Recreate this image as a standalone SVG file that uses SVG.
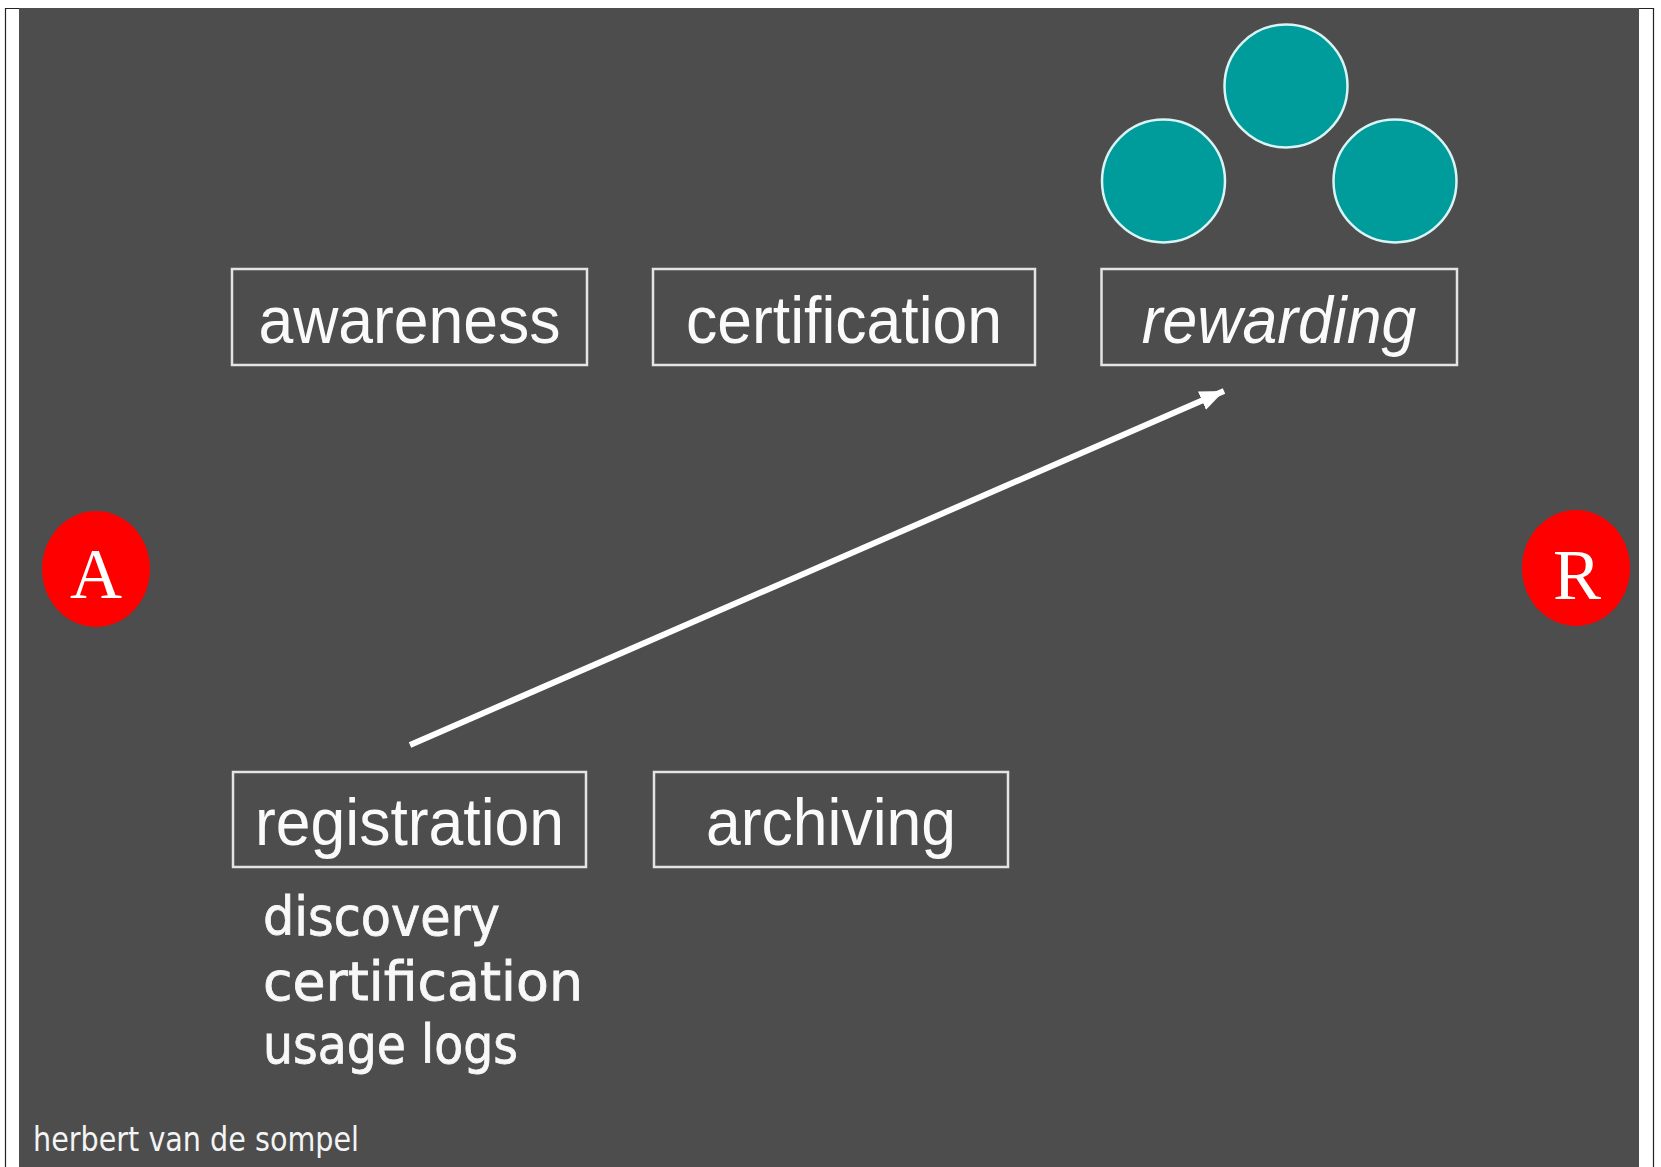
<svg xmlns="http://www.w3.org/2000/svg" width="1661" height="1167" viewBox="0 0 1661 1167">
<defs>
<style>
.box{fill:none;stroke:#e4e4e4;stroke-width:2.5}
.lbl{font-family:'Liberation Sans',Arial,sans-serif;font-size:62.5px;fill:#fafafa;text-anchor:middle}
.sub{font-family:'DejaVu Sans',sans-serif;font-size:53px;fill:#f8f8f8;stroke:#f8f8f8;stroke-width:0.8}
.teal{fill:#009b9b;stroke:#d8f4f4;stroke-width:2.5}
.red{fill:#ff0000}
.letter{font-family:'Liberation Serif','Times New Roman',serif;font-size:72px;fill:#ffffff;text-anchor:middle}
</style>
<marker id="ah" markerUnits="userSpaceOnUse" markerWidth="28" markerHeight="24" refX="24" refY="10" orient="auto">
<path d="M0,0 L24,10 L0,20 Z" fill="#ffffff"/>
</marker>
</defs>
<rect x="0" y="0" width="1661" height="1167" fill="#ffffff"/>
<path d="M5.5,1167 V8.5 H1653.5 V1167" fill="none" stroke="#222" stroke-width="1.2"/>
<rect x="19" y="8" width="1620" height="1159" fill="#4d4d4d"/>

<g id="circles">
<circle class="teal" cx="1286" cy="86" r="61.5"/>
<circle class="teal" cx="1163.5" cy="181" r="61.5"/>
<circle class="teal" cx="1395" cy="181" r="61.5"/>
</g>

<g id="awareness">
<rect class="box" x="232" y="269" width="355" height="96"/>
<text class="lbl" transform="translate(409.5,343) scale(1,1.06)">awareness</text>
</g>
<g id="certification">
<rect class="box" x="653" y="269" width="382" height="96"/>
<text class="lbl" transform="translate(844,343) scale(1,1.06)">certification</text>
</g>
<g id="rewarding">
<rect class="box" x="1101.5" y="269" width="355.5" height="96"/>
<text class="lbl" font-style="italic" transform="translate(1279,343) scale(1,1.06)">rewarding</text>
</g>
<g id="registration">
<rect class="box" x="233" y="772" width="353" height="95"/>
<text class="lbl" transform="translate(409.5,845) scale(1,1.06)">registration</text>
<text class="sub" x="263" y="935" textLength="237" lengthAdjust="spacingAndGlyphs">discovery</text>
<text class="sub" x="263" y="1000" textLength="320" lengthAdjust="spacingAndGlyphs">certification</text>
<text class="sub" x="263" y="1063" textLength="255" lengthAdjust="spacingAndGlyphs">usage logs</text>
</g>
<g id="archiving">
<rect class="box" x="654" y="772" width="354" height="95"/>
<text class="lbl" transform="translate(831,845) scale(1,1.06)">archiving</text>
</g>

<g id="nodeA">
<ellipse class="red" cx="96" cy="569" rx="54" ry="58"/>
<text class="letter" x="96" y="598">A</text>
</g>
<g id="nodeR">
<ellipse class="red" cx="1576" cy="568" rx="54" ry="58"/>
<text class="letter" x="1577" y="599">R</text>
</g>

<g id="connectors">
<line x1="410" y1="745" x2="1224" y2="391" stroke="#ffffff" stroke-width="6" marker-end="url(#ah)"/>
</g>

<text x="33" y="1151" font-family="'DejaVu Sans',sans-serif" font-size="33" fill="#f4f4f4" textLength="326" lengthAdjust="spacingAndGlyphs">herbert van de sompel</text>
</svg>
